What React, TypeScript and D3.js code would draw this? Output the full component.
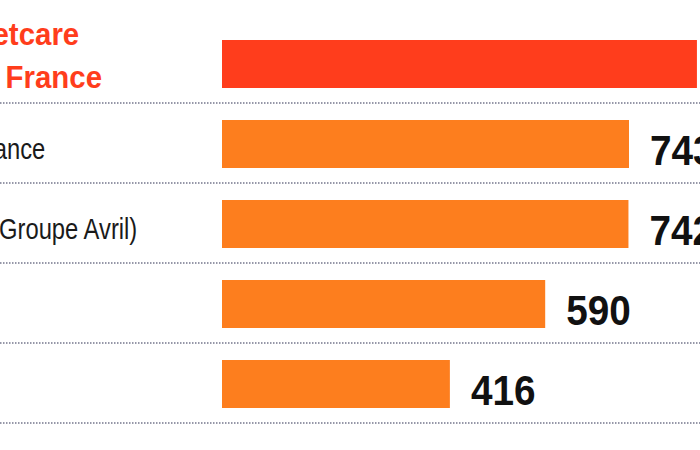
import React from "react";
import * as d3 from "d3";

const categories: string[][] = [
  ["Mars Petcare", "& Food France"],
  ["Purina France"],
  ["Sanders (Groupe Avril)"],
  ["Affinity"],
  ["Dislab"],
];
const values: number[] = [867, 743, 742, 590, 416];
const highlight: boolean[] = [true, false, false, false, false];

const W = 700;
const H = 450;
const RED = "#ff3d1c";
const ORANGE = "#fd7e1e";

export default function App() {
  const x = d3.scaleLinear().domain([0, 743]).range([222, 629]);
  const bw = 48;
  const step = 80;
  const y0 = 40;
  const labelX = -104;

  return (
    <div style={{ position: "fixed", left: 0, top: 0 }}>
      <svg width={W} height={H} style={{ display: "block", background: "#fff" }}>
        {values.map((v, i) => {
          const top = y0 + i * step;
          const bottom = top + bw;
          const mid = top + bw / 2;
          const lines = categories[i];
          const hl = highlight[i];
          return (
            <g key={i}>
              <rect
                x={x(0)}
                y={top}
                width={x(v) - x(0)}
                height={bw}
                fill={hl ? RED : ORANGE}
              />
              <line
                x1={0}
                x2={W}
                y1={bottom + 15}
                y2={bottom + 15}
                stroke="#9697a8"
                strokeWidth={2}
                strokeDasharray="1.5 1.5"
              />
              {hl ? (
                lines.map((t, j) => (
                  <text
                    key={j}
                    transform={`translate(${labelX},${bottom - (lines.length - 1 - j) * 43}) scale(0.92,1)`}
                    fontFamily="'Liberation Sans', Arial, sans-serif"
                    fontWeight="bold"
                    fontSize={32}
                    fill={RED}
                  >
                    {t}
                  </text>
                ))
              ) : (
                <text
                  transform={`translate(${labelX},${mid + 15}) scale(0.82,1)`}
                  fontFamily="'Liberation Sans', Arial, sans-serif"
                  fontSize={29}
                  fill="#1a1a1a"
                >
                  {lines[0]}
                </text>
              )}
              <text
                transform={`translate(${x(v) + 21},${bottom - 3}) scale(0.9,1)`}
                fontFamily="'Liberation Sans', Arial, sans-serif"
                fontWeight="bold"
                fontSize={43}
                fill="#111"
              >
                {d3.format("d")(v)}
              </text>
            </g>
          );
        })}
      </svg>
    </div>
  );
}
